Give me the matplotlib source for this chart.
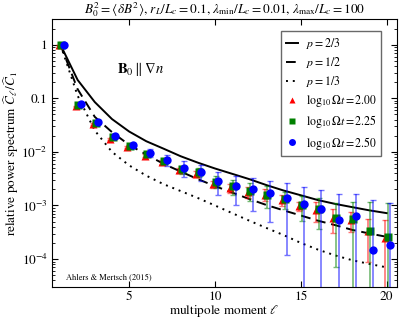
import matplotlib
matplotlib.use("Agg")
import matplotlib.pyplot as plt
from matplotlib import ticker
from matplotlib.lines import Line2D
import numpy as np

plt.rcParams['font.family'] = ['STIXGeneral', 'DejaVu Serif']
plt.rcParams['mathtext.fontset'] = 'stix'

# multipole moments
ell = np.arange(1, 21)

# model curves
p_two_thirds = [1, 0.22, 0.085, 0.041, 0.024, 0.0158, 0.0115, 0.0083, 0.0063, 0.0049,
                0.0039, 0.0031, 0.0024, 0.0019, 0.00155, 0.00126, 0.00107, 0.00093, 0.00081, 0.00072]
p_one_half = [1, 0.148, 0.045, 0.0234, 0.0135, 0.0089, 0.006, 0.0043, 0.0031, 0.0023,
              0.00174, 0.00132, 0.00102, 0.00081, 0.00065, 0.00052, 0.00043, 0.00035, 0.0003, 0.00026]
p_one_third = [1, 0.112, 0.025, 0.01, 0.0056, 0.0036, 0.0025, 0.00186, 0.00138, 0.001,
               0.00072, 0.00052, 0.00038, 0.00028, 0.0002, 0.00015, 0.000117, 0.000095, 0.000081, 0.00007]

# simulations
red_val = [1, 0.071, 0.033, 0.0175, 0.0122, 0.0085, 0.0066, 0.0045, 0.0039, 0.0025,
           0.0021, 0.0018, 0.0016, 0.00126, 0.00098, 0.00083, 0.00058, 0.00054, 0.00033, 0.00025]
red_err = [0, 0.002, 0.001, 0.0006, 0.0005, 0.0005, 0.0006, 0.0005, 0.0005, 0.0004,
           0.0004, 0.0004, 0.0004, 0.0003, 0.0002, 0.00033, 0.00027, 0.00022, 0.00024, 0.00029]
green_val = [1, 0.074, 0.035, 0.0186, 0.0127, 0.009, 0.0068, 0.0047, 0.0042, 0.0028,
             0.0023, 0.0019, 0.0016, 0.00131, 0.00101, 0.00086, 0.00059, 0.00056, 0.00034, 0.00026]
green_err = [0, 0.002, 0.0012, 0.0008, 0.0006, 0.0007, 0.0007, 0.0008, 0.0008, 0.0007,
             0.0007, 0.0007, 0.0007, 0.00045, 0.0005, 0.0005, 0.00052, 0.00062, 0.0008, 0.00083]
blue_val = [1, 0.077, 0.0366, 0.0194, 0.0133, 0.0096, 0.0071, 0.0051, 0.0043, 0.0029,
            0.0023, 0.002, 0.0017, 0.00137, 0.00107, 0.00087, 0.00054, 0.00064, 0.00015, 0.00018]
blue_err = [0, 0.003, 0.002, 0.0015, 0.0012, 0.0016, 0.0016, 0.0017, 0.0014, 0.0013,
            0.0013, 0.0012, 0.0012, 0.00125, 0.00114, 0.00106, 0.00108, 0.00098, 0.0011, 0.00094]

fig = plt.figure(figsize=(3.99, 3.19), dpi=100)
ax = fig.add_axes([0.13, 0.1, 0.865, 0.84])
ax.set_yscale("log")

# Curves
ax.plot(ell, p_two_thirds, color="black", lw=1.4, ls="-")
ax.plot(ell, p_one_half, color="black", lw=1.4, ls=(0, (5, 3)))
ax.plot(ell, p_one_third, color="black", lw=1.4, ls=(0, (1, 2.5)))

# Data points with error bars
sims = [(red_val, red_err, "red", "^", -0.1),
        (green_val, green_err, "green", "s", 0.05),
        (blue_val, blue_err, "blue", "o", 0.2)]
for val, err, col, mk, dx in sims:
    ax.errorbar(ell + dx, val, yerr=err, fmt="none", ecolor=col, elinewidth=1.2,
                capsize=2.5, capthick=1.0, alpha=0.55)
    ax.plot(ell + dx, val, ls="none", marker=mk, color=col,
            ms=6 if mk != "s" else 5.5, mec="none")

# Axes
ax.set_xlim(0.5, 20.6)
ax.set_ylim(3e-5, 3)
ax.set_xticks([5, 10, 15, 20])
ax.yaxis.set_major_locator(ticker.LogLocator(base=10, numticks=10))
ax.yaxis.set_minor_locator(ticker.LogLocator(base=10, subs=np.arange(2, 10), numticks=20))


def yfmt(v, pos):
    if v >= 0.1:
        return "%g" % v
    return r"$10^{%d}$" % int(round(np.log10(v)))


ax.yaxis.set_major_formatter(ticker.FuncFormatter(yfmt))
ax.yaxis.set_minor_formatter(ticker.NullFormatter())
ax.tick_params(which="both", direction="in", top=True, right=True, labelsize=9.5, pad=3)
ax.tick_params(which="major", length=4)
ax.tick_params(which="minor", length=2)

ax.set_xlabel(r"multipole moment $\ell$", fontsize=9.5)
ax.xaxis.set_label_coords(0.5, -0.06)
ax.set_ylabel(r"relative power spectrum $\widehat{C}_\ell/\widehat{C}_1$", fontsize=9.5)
ax.yaxis.set_label_coords(-0.088, 0.5)
ax.set_title(r"$B_0^2=\langle\delta B^2\rangle$, $r_L/L_c=0.1$, $\lambda_{\rm min}/L_c=0.01$, $\lambda_{\rm max}/L_c=100$",
             fontsize=9.5, pad=2)

ax.text(4.3, 0.3, r"$\mathbf{B}_0\parallel\nabla n$", fontsize=10.5)
ax.text(0.04, 0.03, "Ahlers & Mertsch (2015)", transform=ax.transAxes, fontsize=6)

# Legend
handles = [Line2D([], [], color="black", lw=1.4, ls="-"),
           Line2D([], [], color="black", lw=1.4, ls=(0, (5, 3))),
           Line2D([], [], color="black", lw=1.4, ls=(0, (1, 2.5))),
           Line2D([], [], ls="none", marker="^", color="red", ms=5, mec="none"),
           Line2D([], [], ls="none", marker="s", color="green", ms=4.5, mec="none"),
           Line2D([], [], ls="none", marker="o", color="blue", ms=5, mec="none")]
labels = [r"$p=2/3$", r"$p=1/2$", r"$p=1/3$",
          r"$\log_{10}\Omega t=2.00$", r"$\log_{10}\Omega t=2.25$", r"$\log_{10}\Omega t=2.50$"]
leg = ax.legend(handles, labels, loc="upper right", fontsize=8.5, fancybox=False,
                handlelength=1.0, handletextpad=0.7, borderpad=0.4, labelspacing=0.35,
                borderaxespad=0, bbox_to_anchor=(0.955, 0.955))
leg.get_frame().set_edgecolor("#444444")
leg.get_frame().set_linewidth(1.0)

plt.savefig("out.png", dpi=100)
